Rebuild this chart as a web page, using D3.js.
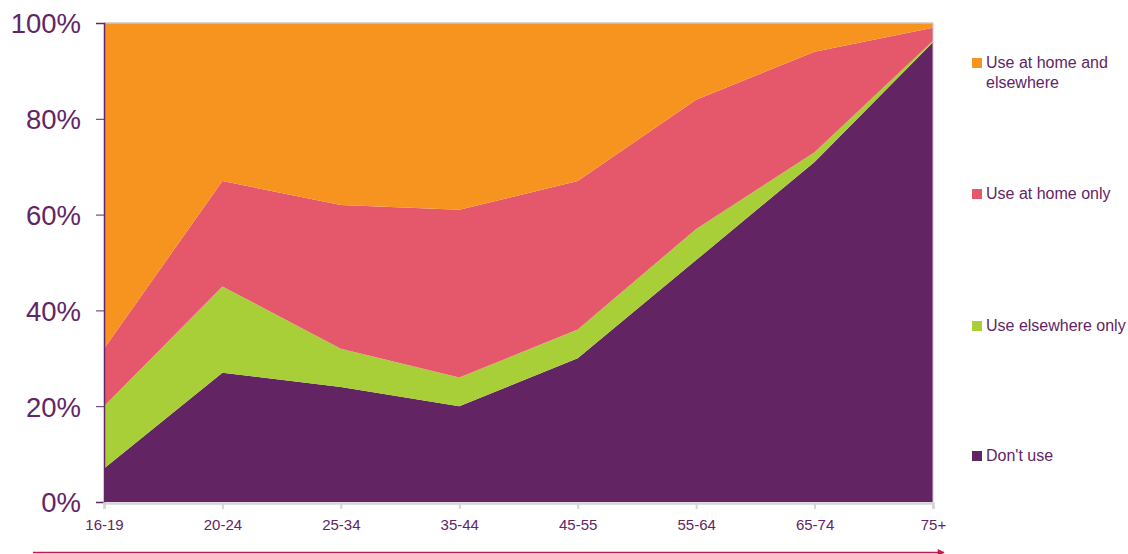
<!DOCTYPE html>
<html>
<head>
<meta charset="utf-8">
<script src="https://cdn.jsdelivr.net/npm/d3@7"></script>
<style>
  html, body { margin: 0; padding: 0; background: #ffffff; }
  svg { display: block; font-family: "Liberation Sans", Arial, sans-serif; }
</style>
</head>
<body>
<svg id="chart" width="1128" height="554"></svg>
<script>
// ---- data ----
const ageGroups = ["16-19", "20-24", "25-34", "35-44", "45-55", "55-64", "65-74", "75+"];
const dontUse = [7, 27, 24, 20, 30, 50.5, 71, 96];
const useElsewhereOnly = [13, 18, 8, 6, 6, 6.5, 2, 0.3];
const useAtHomeOnly = [12, 22, 30, 35, 31, 27, 21, 2.7];
const useAtHomeAndElsewhere = [68, 33, 38, 39, 33, 16, 6, 1];
const yTicks = [0, 20, 40, 60, 80, 100];
const seriesNames = ["Don't use", "Use elsewhere only", "Use at home only", "Use at home and elsewhere"];
const seriesColors = ["#622462", "#a8cf38", "#e5576a", "#f6941f"];

const rows = ageGroups.map((a, i) => ({
  age: a,
  "Don't use": dontUse[i],
  "Use elsewhere only": useElsewhereOnly[i],
  "Use at home only": useAtHomeOnly[i],
  "Use at home and elsewhere": useAtHomeAndElsewhere[i]
}));

const svg = d3.select("#chart");
const textColor = "#622566";

const x = d3.scalePoint().domain(ageGroups).range([104, 933]);
const y = d3.scaleLinear().domain([0, 100]).range([502, 23]);

const stack = d3.stack().keys(seriesNames);
const layers = stack(rows);

const area = d3.area()
  .x(d => x(d.data.age))
  .y0(d => y(d[0]))
  .y1(d => y(d[1]));

svg.append("g").selectAll("path")
  .data(layers)
  .join("path")
  .attr("d", area)
  .attr("fill", (d, i) => seriesColors[i]);

// top and right frame lines (light gray)
svg.append("line").attr("x1", x(ageGroups[0])).attr("x2", x(ageGroups[ageGroups.length - 1]))
  .attr("y1", y(100)).attr("y2", y(100)).attr("stroke", "#c8c8c8").attr("stroke-width", 1.5);
svg.append("line").attr("x1", 933).attr("x2", 933)
  .attr("y1", y(100)).attr("y2", y(0)).attr("stroke", "#d0c8d0").attr("stroke-width", 1);

// y axis
const yAxis = svg.append("g").attr("transform", "translate(104,0)")
  .call(d3.axisLeft(y).tickValues(yTicks).tickFormat(d => d + "%").tickSize(8).tickPadding(15));
yAxis.select(".domain").attr("stroke", textColor).attr("stroke-width", 1.5);
yAxis.selectAll(".tick line").attr("stroke", textColor).attr("stroke-width", 1);
yAxis.selectAll(".tick text").attr("fill", textColor).attr("font-size", 27.5)
  .attr("font-family", "Liberation Sans, Arial, sans-serif").attr("dy", "0.36em");

// x axis
const xAxis = svg.append("g").attr("transform", "translate(0,503)")
  .call(d3.axisBottom(x).tickSize(6).tickPadding(10));
xAxis.select(".domain").attr("stroke", "#d4d4d4").attr("stroke-width", 2.5);
xAxis.selectAll(".tick line").attr("stroke", "#d4d4d4").attr("stroke-width", 2);
xAxis.selectAll(".tick text").attr("fill", textColor).attr("font-size", 15)
  .attr("font-family", "Liberation Sans, Arial, sans-serif");

// arrow below axis
const defs = svg.append("defs");
defs.append("marker").attr("id", "arrowhead")
  .attr("viewBox", "0 0 10 10").attr("refX", 9).attr("refY", 5)
  .attr("markerWidth", 10).attr("markerHeight", 7).attr("markerUnits", "userSpaceOnUse")
  .attr("orient", "auto")
  .append("path").attr("d", "M0,0 L10,5 L0,10 Z").attr("fill", "#c8174e");
svg.append("line").attr("x1", 33).attr("x2", 944).attr("y1", 552.5).attr("y2", 552.5)
  .attr("stroke", "#c8174e").attr("stroke-width", 1.5).attr("marker-end", "url(#arrowhead)");

// legend
const legendItems = [
  { name: "Use at home and elsewhere", lines: ["Use at home and", "elsewhere"], color: seriesColors[3], base: 68 },
  { name: "Use at home only", lines: ["Use at home only"], color: seriesColors[2], base: 199 },
  { name: "Use elsewhere only", lines: ["Use elsewhere only"], color: seriesColors[1], base: 331 },
  { name: "Don't use", lines: ["Don't use"], color: seriesColors[0], base: 461 }
];
const lg = svg.append("g");
legendItems.forEach(it => {
  lg.append("rect").attr("x", 972).attr("y", it.base - 10).attr("width", 10).attr("height", 10)
    .attr("fill", it.color);
  const t = lg.append("text").attr("x", 986).attr("y", it.base)
    .attr("fill", textColor).attr("font-size", 16);
  it.lines.forEach((ln, j) => {
    t.append("tspan").attr("x", 986).attr("dy", j === 0 ? 0 : 20).text(ln);
  });
});
</script>
</body>
</html>
